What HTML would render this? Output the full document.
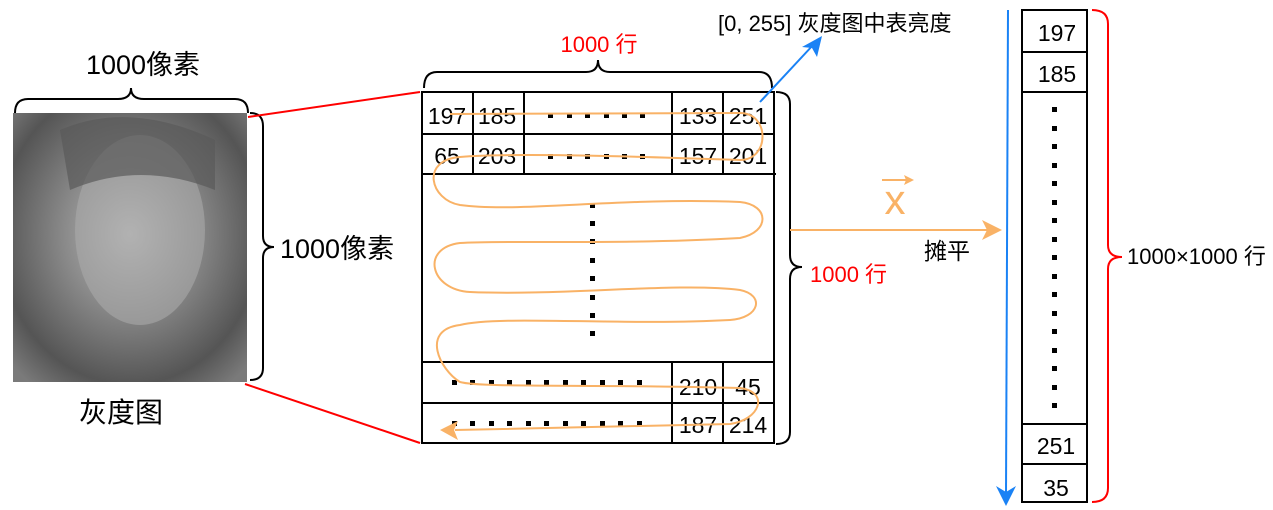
<!DOCTYPE html>
<html><head><meta charset="utf-8"><style>
html,body{margin:0;padding:0;background:#fff;width:1273px;height:510px;overflow:hidden}
text{font-family:"Liberation Sans","Noto Sans CJK SC",sans-serif}
</style></head><body>
<svg width="1273" height="510" viewBox="0 0 1273 510" xmlns="http://www.w3.org/2000/svg">
<defs>
<radialGradient id="g" cx="0.5" cy="0.45" r="0.7">
<stop offset="0" stop-color="#bdbdbd"/><stop offset="0.4" stop-color="#8a8a8a"/><stop offset="0.8" stop-color="#555"/><stop offset="1" stop-color="#7a7a7a"/>
</radialGradient>
</defs>
<rect x="13" y="113" width="234" height="269" fill="url(#g)"/>
<ellipse cx="140" cy="230" rx="65" ry="95" fill="#aaa" opacity="0.6"/>
<path d="M60 130 Q130 100 215 140 L215 190 Q140 160 70 190Z" fill="#5a5a5a" opacity="0.7"/>
<text x="143" y="74" font-size="27" text-anchor="middle">1000像素</text>
<path d="M15 113 Q15 99 28 99 L118 99 Q131 99 131 88 Q131 99 144 99 L235 99 Q248 99 248 113" fill="none" stroke="#000" stroke-width="2"/>
<path d="M250 113 Q263 113 263 126 L263 236 Q263 247 274 247 Q263 247 263 258 L263 368 Q263 380 250 380" fill="none" stroke="#000" stroke-width="2"/>
<text x="280" y="258" font-size="27">1000像素</text>
<text x="121" y="422" font-size="28" text-anchor="middle">灰度图</text>
<line x1="248" y1="117" x2="420" y2="92" stroke="#f00" stroke-width="2"/>
<line x1="245" y1="384" x2="420" y2="443" stroke="#f00" stroke-width="2"/>
<text x="599" y="52" font-size="22" fill="#f00" text-anchor="middle">1000 行</text>
<path d="M424 88 Q424 72 437 72 L586 72 Q598 72 598 60 Q598 72 610 72 L759 72 Q772 72 772 88" fill="none" stroke="#000" stroke-width="2"/>
<g stroke="#000" stroke-width="2" fill="none">
<rect x="422" y="92" width="352" height="351"/>
<line x1="422" y1="134" x2="774" y2="134"/>
<line x1="422" y1="174" x2="776" y2="174"/>
<line x1="422" y1="362" x2="774" y2="362"/>
<line x1="422" y1="403" x2="774" y2="403"/>
<line x1="473" y1="92" x2="473" y2="174"/>
<line x1="524" y1="92" x2="524" y2="174"/>
<line x1="672" y1="92" x2="672" y2="174"/>
<line x1="723" y1="92" x2="723" y2="174"/>
<line x1="672" y1="362" x2="672" y2="443"/>
<line x1="723" y1="362" x2="723" y2="443"/>
</g>
<g font-size="23" text-anchor="middle">
<text x="447" y="124">197</text><text x="497" y="124">185</text><text x="698" y="124">133</text><text x="748" y="124">251</text>
<text x="447" y="164">65</text><text x="497" y="164">203</text><text x="698" y="164">157</text><text x="748" y="164">201</text>
<text x="698" y="395">210</text><text x="748" y="395">45</text>
<text x="698" y="433">187</text><text x="748" y="433">214</text>
</g>
<g fill="#000">
<g id="d1"><rect x="548" y="113" width="5" height="5"/><rect x="567" y="113" width="5" height="5"/><rect x="585" y="113" width="5" height="5"/><rect x="604" y="113" width="5" height="5"/><rect x="622" y="113" width="5" height="5"/><rect x="640" y="113" width="5" height="5"/></g>
<use href="#d1" y="41"/>
<rect x="590" y="203" width="5" height="5"/><rect x="590" y="221" width="5" height="5"/><rect x="590" y="239" width="5" height="5"/><rect x="590" y="258" width="5" height="5"/><rect x="590" y="276" width="5" height="5"/><rect x="590" y="295" width="5" height="5"/><rect x="590" y="313" width="5" height="5"/><rect x="590" y="331" width="5" height="5"/>
<g id="d2"><rect x="452" y="380" width="5" height="5"/><rect x="470" y="380" width="5" height="5"/><rect x="489" y="380" width="5" height="5"/><rect x="507" y="380" width="5" height="5"/><rect x="526" y="380" width="5" height="5"/><rect x="544" y="380" width="5" height="5"/><rect x="563" y="380" width="5" height="5"/><rect x="581" y="380" width="5" height="5"/><rect x="600" y="380" width="5" height="5"/><rect x="618" y="380" width="5" height="5"/><rect x="637" y="380" width="5" height="5"/></g>
<use href="#d2" y="41"/>
</g>
<path d="M450 114 L740 113 C770 113 770 160 740 160 C680 158 520 152 460 157 C420 160 430 200 460 205 C520 213 620 197 740 202 C770 205 770 232 740 238 C620 245 500 240 460 243 C420 248 430 290 470 292 C560 296 680 282 740 290 C765 295 760 318 730 320 C620 326 500 315 460 325 C420 330 440 370 460 382 C480 388 600 384 740 388 C770 392 760 420 730 424 L455 430" fill="none" stroke="#f9b266" stroke-width="2"/>
<path d="M440 430 L458 421 L454 430 L458 440Z" fill="#f9b266"/>
<path d="M776 92 Q790 92 790 104 L790 255 Q790 267 802 267 Q790 267 790 279 L790 432 Q790 444 776 444" fill="none" stroke="#000" stroke-width="2"/>
<text x="810" y="282" font-size="22" fill="#f00">1000 行</text>
<line x1="760" y1="102" x2="814" y2="44" stroke="#1a82f5" stroke-width="2"/>
<path d="M822 36 L817 57 L812 48 L802 47Z" fill="#1a82f5"/>
<text x="718" y="31" font-size="22">[0, 255] 灰度图中表亮度</text>
<line x1="790" y1="230" x2="990" y2="230" stroke="#f9b266" stroke-width="2"/>
<path d="M1002 230 L982 220 L987 230 L982 240Z" fill="#f9b266"/>
<text x="895" y="214" font-size="42" fill="#f9b266" text-anchor="middle">x</text>
<line x1="882" y1="180" x2="910" y2="180" stroke="#f9b266" stroke-width="2"/>
<path d="M914 180 L904 175 L906 180 L904 185Z" fill="#f9b266"/>
<text x="924" y="259" font-size="23">摊平</text>
<line x1="1008" y1="10" x2="1006" y2="494" stroke="#1a82f5" stroke-width="2"/>
<path d="M1006 506 L996 486 L1006 492 L1016 486Z" fill="#1a82f5"/>
<g stroke="#000" stroke-width="2" fill="none">
<rect x="1022" y="10" width="65" height="492"/>
<line x1="1022" y1="52" x2="1087" y2="52"/>
<line x1="1022" y1="92" x2="1087" y2="92"/>
<line x1="1022" y1="424" x2="1087" y2="424"/>
<line x1="1022" y1="464" x2="1087" y2="464"/>
</g>
<g font-size="23" text-anchor="middle">
<text x="1057" y="41">197</text><text x="1057" y="82">185</text><text x="1056" y="454">251</text><text x="1056" y="496">35</text>
</g>
<g fill="#000">
<rect x="1052" y="107" width="5" height="5"/><rect x="1052" y="126" width="5" height="5"/><rect x="1052" y="144" width="5" height="5"/><rect x="1052" y="163" width="5" height="5"/><rect x="1052" y="181" width="5" height="5"/><rect x="1052" y="200" width="5" height="5"/><rect x="1052" y="218" width="5" height="5"/><rect x="1052" y="237" width="5" height="5"/><rect x="1052" y="255" width="5" height="5"/><rect x="1052" y="274" width="5" height="5"/><rect x="1052" y="292" width="5" height="5"/><rect x="1052" y="311" width="5" height="5"/><rect x="1052" y="329" width="5" height="5"/><rect x="1052" y="348" width="5" height="5"/><rect x="1052" y="366" width="5" height="5"/><rect x="1052" y="385" width="5" height="5"/><rect x="1052" y="403" width="5" height="5"/>
</g>
<path d="M1092 10 Q1108 10 1108 24 L1108 245 Q1108 257 1122 257 Q1108 257 1108 269 L1108 488 Q1108 502 1092 502" fill="none" stroke="#f00" stroke-width="2"/>
<text x="1127" y="264" font-size="22">1000×1000 行</text>
</svg>
</body></html>
